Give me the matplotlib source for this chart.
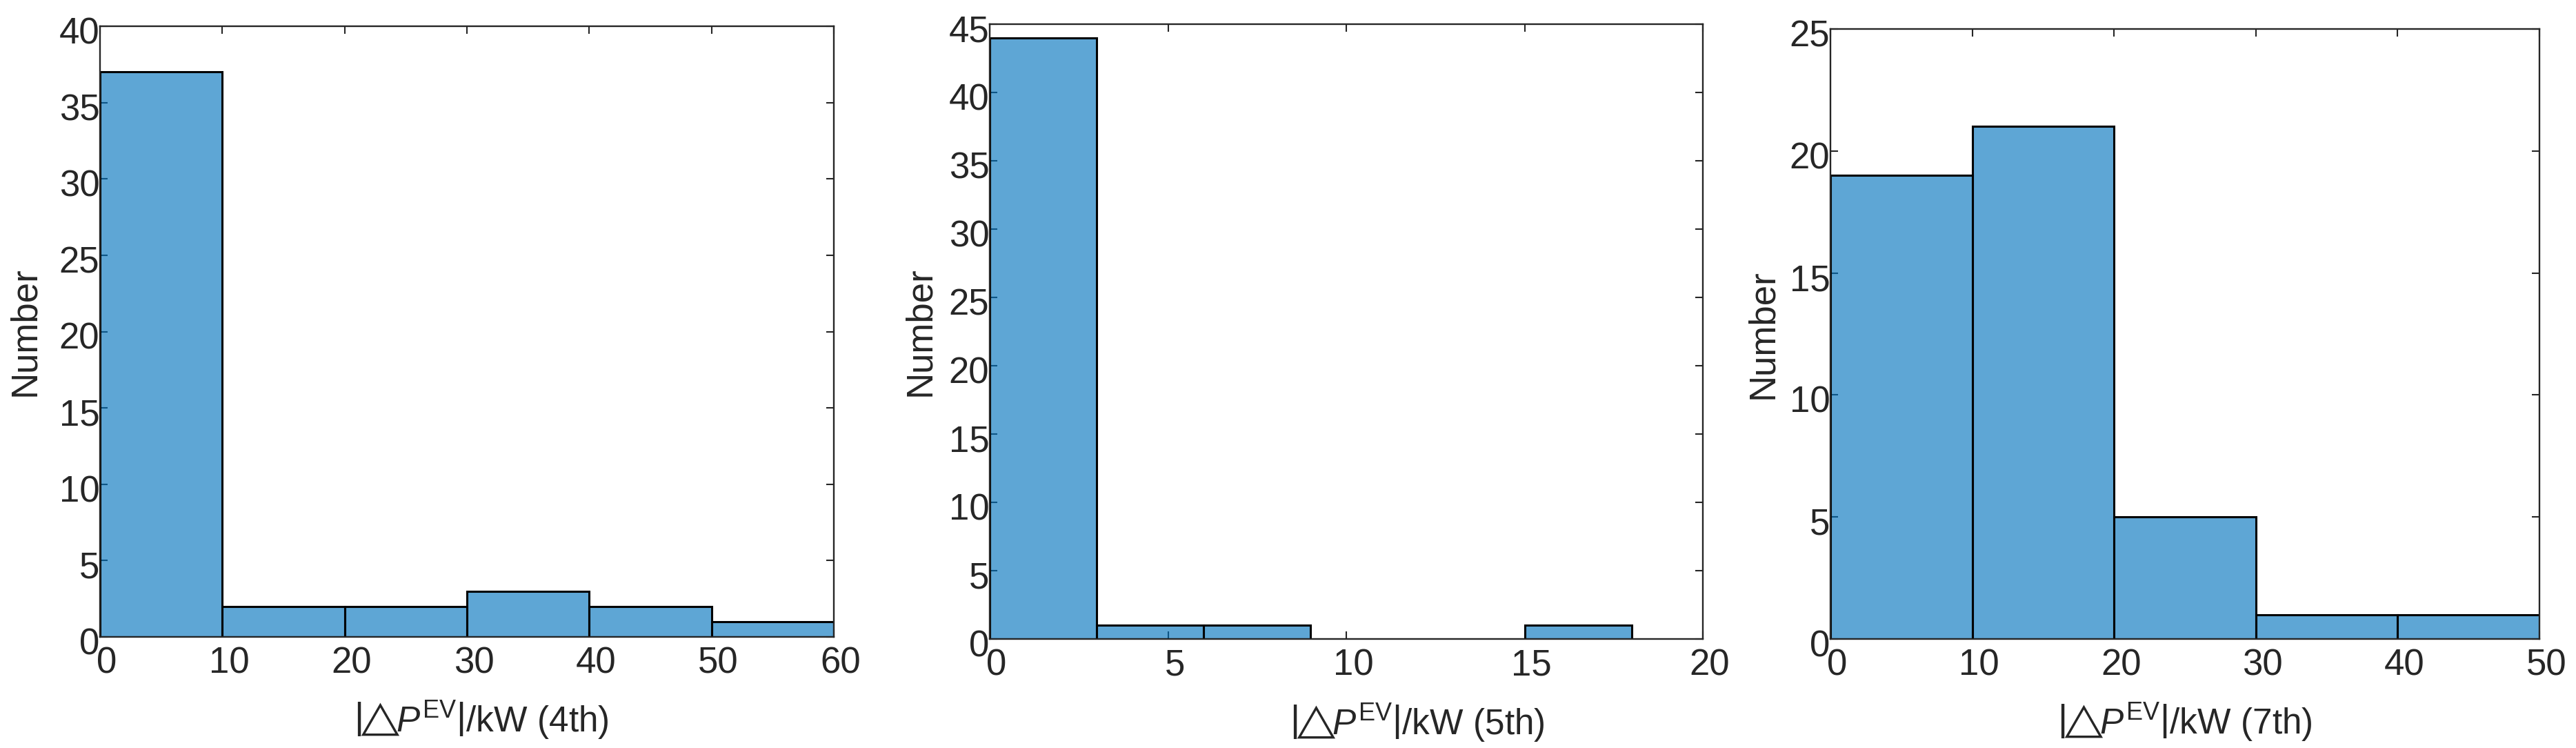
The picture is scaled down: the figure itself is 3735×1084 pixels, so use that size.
import matplotlib
matplotlib.use('Agg')
import matplotlib.pyplot as plt
from matplotlib.transforms import ScaledTranslation

## Histogram data (counts per bin)
edges_4th = [0, 10, 20, 30, 40, 50, 60]
counts_4th = [37, 2, 2, 3, 2, 1]

edges_5th = [0, 3, 6, 9, 12, 15, 18]
counts_5th = [44, 1, 1, 0, 0, 1]

edges_7th = [0, 10, 20, 30, 40, 50]
counts_7th = [19, 21, 5, 1, 1]

labels = ['4th', '5th', '7th']

plt.rcParams['font.family'] = ['Liberation Sans', 'DejaVu Sans']
plt.rcParams['mathtext.fontset'] = 'custom'
plt.rcParams['mathtext.rm'] = 'Liberation Sans'
plt.rcParams['mathtext.it'] = 'Liberation Sans:italic'
plt.rcParams['font.size'] = 38

txt = '#262626'
bar_color = (0.0, 0.447, 0.741, 0.63)

fig = plt.figure(figsize=(37.35, 10.84), dpi=100)
W, H = 3735, 1084

def add_axes(l, r, t, b):
    return fig.add_axes([l / W, 1 - b / H, (r - l) / W, (b - t) / H])

ax1 = add_axes(145, 1209, 38, 923)
ax2 = add_axes(1435, 2469, 35, 926)
ax3 = add_axes(2654, 3682, 42, 926)

# axes, bin edges, counts, xlim, xticks, ylim, yticks, ylabel x, xlabel x
setups = [
    (ax1, edges_4th, counts_4th, (0, 60), range(0, 61, 10), (0, 40), range(0, 41, 5), -0.102, 0.52),
    (ax2, edges_5th, counts_5th, (0, 20), range(0, 21, 5), (0, 45), range(0, 46, 5), -0.098, 0.60),
    (ax3, edges_7th, counts_7th, (0, 50), range(0, 51, 10), (0, 25), range(0, 26, 5), -0.095, 0.50),
]

xshift = ScaledTranslation(10 / 100, 0, fig.dpi_scale_trans)
yshift = ScaledTranslation(0, -6 / 100, fig.dpi_scale_trans)

for (ax, edges, counts, xl, xt, yl, yt, ylx, xlx), lab in zip(setups, labels):
    widths = [edges[i + 1] - edges[i] for i in range(len(counts))]
    ax.bar(edges[:-1], counts, width=widths, align='edge',
           color=bar_color, edgecolor='black', linewidth=2.2)
    ax.set_axisbelow(True)
    ax.set_xlim(*xl)
    ax.set_ylim(*yl)
    ax.set_xticks(list(xt))
    ax.set_yticks(list(yt))
    ax.tick_params(direction='in', length=8, width=1.5, colors=txt,
                   top=True, right=True, labelsize=38)
    ax.tick_params(axis='x', pad=10)
    ax.tick_params(axis='y', pad=0.5)
    for lbl in ax.get_xticklabels():
        lbl.set_transform(lbl.get_transform() + xshift)
    for lbl in ax.get_yticklabels():
        lbl.set_transform(lbl.get_transform() + yshift)
    for s in ax.spines.values():
        s.set_color(txt)
        s.set_linewidth(1.7)
    ax.set_ylabel('Number', color=txt, fontsize=38)
    ax.yaxis.label.set_va('center')
    ax.yaxis.set_label_coords(ylx, 0.5)
    ax.set_xlabel(r'$\left|\!\!{\triangle}\!\!P^{\mathrm{EV}}\right|$/kW (' + lab + ')',
                  color=txt, fontsize=37)
    ax.xaxis.label.set_va('center')
    ax.xaxis.set_label_coords(xlx, -0.137)

fig.savefig('out.png', dpi=100)
